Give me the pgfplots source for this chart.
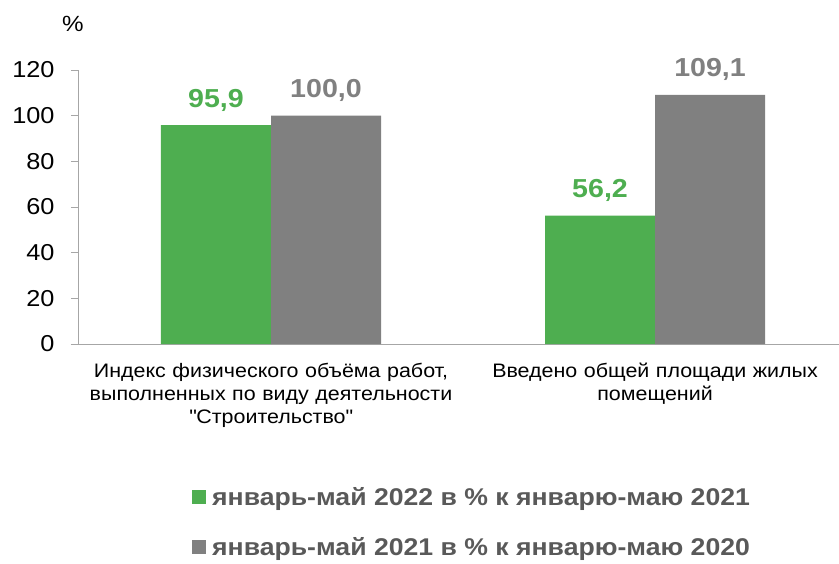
\documentclass[border=0pt]{standalone}
\usepackage{pgfplots}
\pgfplotsset{compat=1.18}
\usepackage{fontspec}
\setmainfont[FakeStretch=1.1]{Liberation Sans}
\definecolor{barGreen}{RGB}{78,174,80}
\definecolor{barGray}{RGB}{128,128,128}
\definecolor{legText}{RGB}{89,89,89}
\definecolor{axGray}{RGB}{166,166,166}
\begin{document}
\begin{tikzpicture}
\useasboundingbox (-78bp,-220bp) rectangle (761bp,344bp);
\begin{axis}[
  at={(0,0)}, anchor=south west,
  scale only axis,
  width=761bp, height=274bp,
  ybar=0pt, bar width=0.2865,
  xmin=-0.5026, xmax=1.479,
  ymin=0, ymax=120,
  ytick={0,20,...,120},
  xtick={0,1},
  xticklabels={{Индекс физического объёма работ,\\выполненных по виду деятельности\\\textquotedbl Строительство\textquotedbl},{Введено общей площади жилых\\помещений}},
  x tick label style={font=\fontsize{19.5bp}{23bp}\selectfont, align=center, text width=400bp, yshift=-9bp},
  y tick label style={font=\fontsize{23bp}{26bp}\selectfont, xshift=-13bp},
  /pgf/number format/assume math mode=true,
  axis x line=bottom, axis y line=left,
  axis line style={axGray, line width=0.8pt, -},
  x axis line style={shorten <=-7bp},
  major tick length=7bp,
  tick align=outside,
  tick style={axGray, line width=0.8pt},
  x tick style={draw=none},
  extra x ticks={-0.5026,0.5},
  extra x tick labels={},
  extra x tick style={tick style={axGray, line width=0.8pt}},
  nodes near coords={\pgfmathprintnumber[fixed,fixed zerofill,precision=1,use comma]{\pgfplotspointmeta}},
  every node near coord/.append style={font=\fontsize{26bp}{30bp}\selectfont\bfseries, anchor=base, yshift=18bp},
  legend style={
    at={(axis description cs:0.1498,-0.516)}, anchor=north west,
    draw=none, fill=none, inner sep=0pt,
    font=\fontsize{24.2bp}{28bp}\selectfont\bfseries, text=legText,
    row sep=26bp,
    /tikz/every odd column/.append style={column sep=4bp},
  },
  legend cell align=left,
  legend image code/.code={\fill[#1,draw=none] (0bp,-7bp) rectangle (14bp,7bp);},
]
\addplot[fill=barGreen, draw=none, every node near coord/.append style={text=barGreen}] coordinates {(0,95.9) (1,56.2)};
\addplot[fill=barGray, draw=none, every node near coord/.append style={text=barGray}] coordinates {(0,100.0) (1,109.1)};
\legend{январь-май 2022 в \% к январю-маю 2021, январь-май 2021 в \% к январю-маю 2020}
\end{axis}
\node[font=\fontsize{22bp}{25bp}\selectfont] at (-5bp,320bp) {\%};
\end{tikzpicture}
\end{document}
